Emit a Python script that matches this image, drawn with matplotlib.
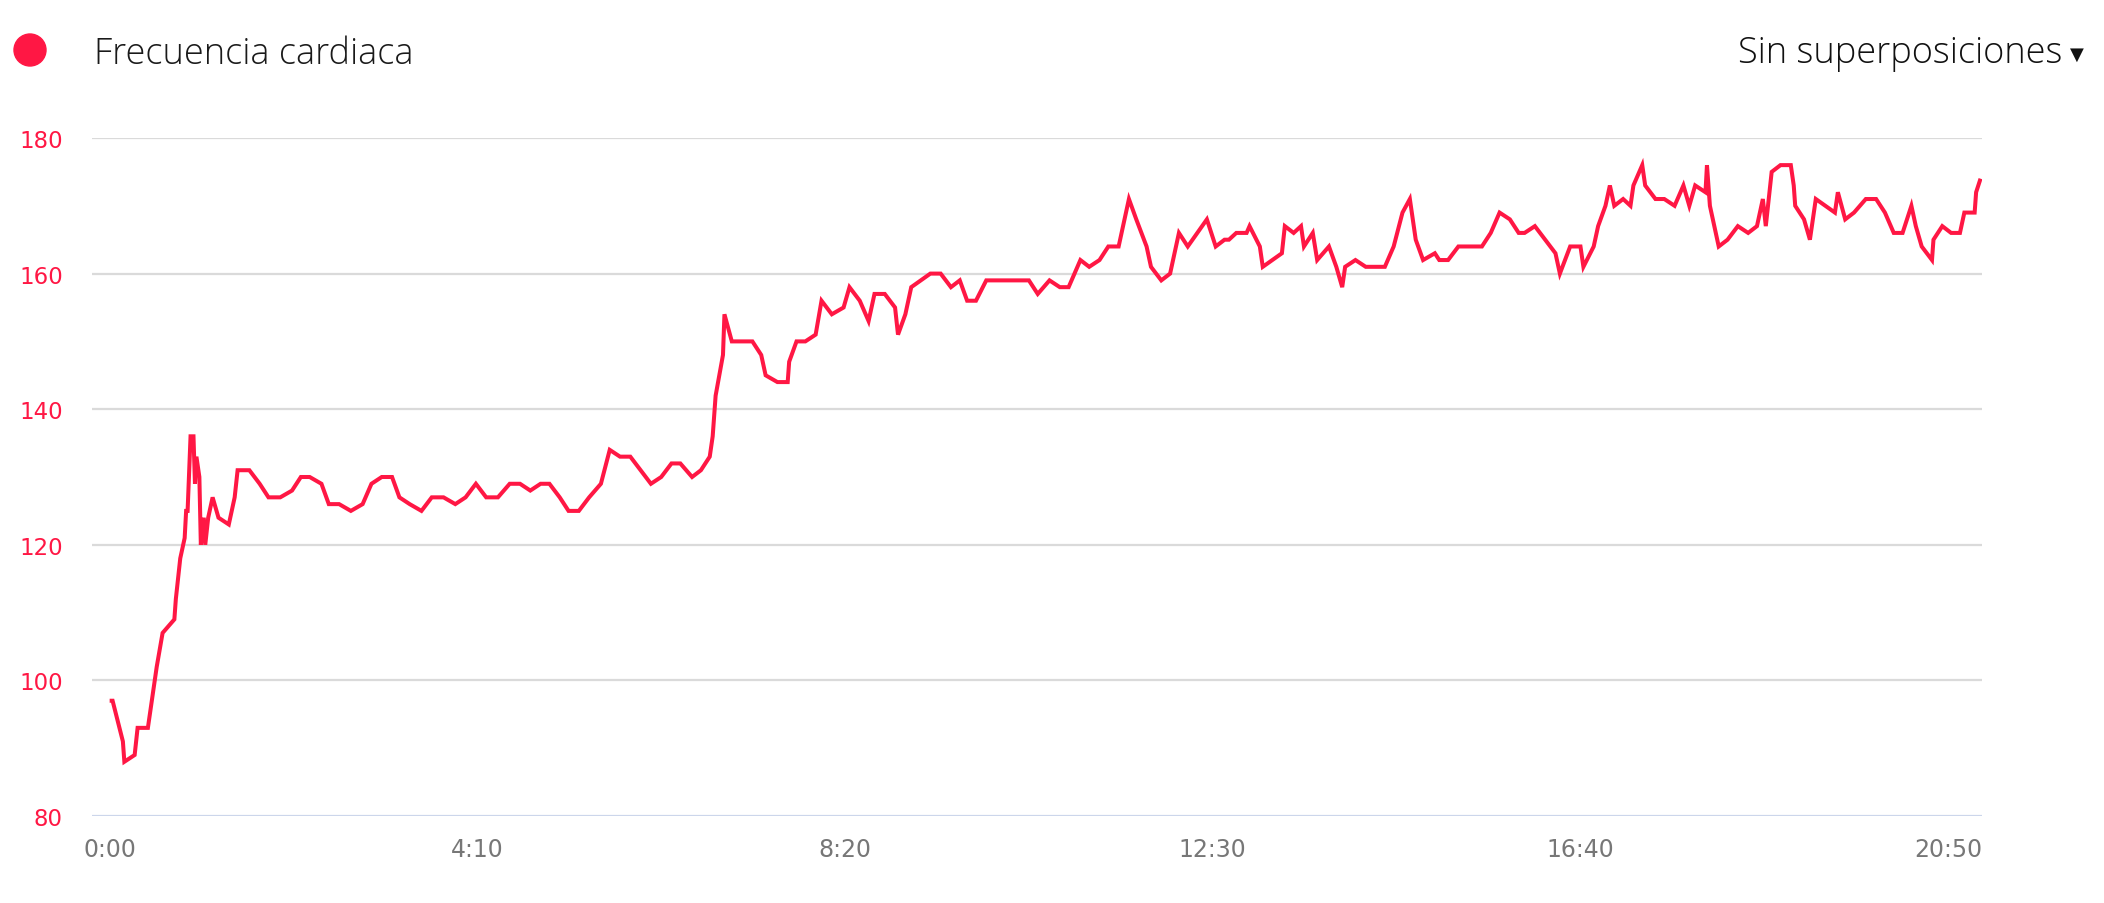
import matplotlib
matplotlib.use("Agg")
import matplotlib.pyplot as plt
from matplotlib.patches import Ellipse

# ---- data (seconds, bpm) ----
time_s = [0, 2, 9, 10, 17, 19, 26, 32, 36, 44, 45, 48, 51, 52, 53, 55, 57, 58, 59, 61,
          62, 64, 65, 67, 70, 74, 81, 85, 87, 95, 102, 108, 116, 124, 130, 136, 144, 149,
          156, 164, 172, 178, 185, 192, 197, 204, 212, 219, 227,
          235, 242, 249, 256, 264, 272, 279, 286, 293, 299, 306, 312, 319, 326, 334, 340,
          347, 354, 361, 368, 375, 382, 388, 396, 402, 408, 410, 412, 417, 418, 423, 437,
          443, 446, 454, 461, 462, 467, 473, 480, 484, 491, 499, 503, 510, 516, 520, 527,
          534, 536, 541, 545, 558, 565, 572, 578, 583, 589, 596, 625, 631, 639, 646, 652,
          660, 666, 673, 679, 686, 693, 698, 705, 708, 715, 721, 722, 727, 733, 746, 752,
          758, 761, 766, 773, 775, 782, 784, 797, 799, 805, 810, 812, 818, 821, 829,
          834, 838, 840, 847, 854, 867, 873, 879, 884, 888, 893, 901, 904, 910, 917, 933,
          939, 945, 952, 958, 962, 969, 976, 983, 986, 993, 1000, 1002, 1009, 1012, 1017,
          1020, 1023, 1029, 1034, 1036, 1042, 1044, 1051, 1057, 1064, 1070, 1074, 1078,
          1085, 1086, 1088, 1091, 1094, 1100, 1107, 1114, 1120, 1124, 1126,
          1130, 1136, 1143, 1145, 1146, 1152, 1156, 1160, 1173, 1175, 1180, 1186, 1194,
          1201, 1207, 1213, 1219, 1225, 1228, 1232, 1239, 1240, 1246, 1252, 1258, 1261,
          1268, 1269, 1272]
heart_rate = [97, 97, 91, 88, 89, 93, 93, 102, 107, 109, 112, 118, 121, 125, 125, 136, 136, 129, 133, 130,
              120, 124, 120, 124, 127, 124, 123, 127, 131, 131, 129, 127, 127, 128, 130, 130, 129, 126,
              126, 125, 126, 129, 130, 130, 127, 126, 125, 127, 127,
              126, 127, 129, 127, 127, 129, 129, 128, 129, 129, 127, 125, 125, 127, 129, 134,
              133, 133, 131, 129, 130, 132, 132, 130, 131, 133, 136, 142, 148, 154, 150, 150,
              148, 145, 144, 144, 147, 150, 150, 151, 156, 154, 155, 158, 156, 153, 157, 157,
              155, 151, 154, 158, 160, 160, 158, 159, 156, 156, 159, 159, 157, 159, 158, 158,
              162, 161, 162, 164, 164, 171, 168, 164, 161, 159, 160, 161, 166, 164, 168, 164,
              165, 165, 166, 166, 167, 164, 161, 163, 167, 166, 167, 164, 166, 162, 164,
              161, 158, 161, 162, 161, 161, 164, 169, 171, 165, 162, 163, 162, 162, 164, 164,
              166, 169, 168, 166, 166, 167, 165, 163, 160, 164, 164, 161, 164, 167, 170,
              173, 170, 171, 170, 173, 176, 173, 171, 171, 170, 173, 170, 173,
              172, 176, 170, 167, 164, 165, 167, 166, 167, 171, 167,
              175, 176, 176, 173, 170, 168, 165, 171, 169, 172, 168, 169, 171,
              171, 169, 166, 166, 170, 167, 164, 162, 165, 167, 166, 166, 169,
              169, 172, 174]

y_ticks = [80, 100, 120, 140, 160, 180]
x_ticks = [0, 250, 500, 750, 1000, 1250]
x_labels = ["0:00", "4:10", "8:20", "12:30", "16:40", "20:50"]
series_name = "Frecuencia cardiaca"
menu_label = "Sin superposiciones"

LINE = "#ff1744"
W, H = 2104, 904

fig = plt.figure(figsize=(W / 100, H / 100), dpi=100)
fig.patch.set_facecolor("white")

left, right = 92 / W, 1982 / W
bottom, top = 1 - 817 / H, 1 - 139 / H
ax = fig.add_axes([left, bottom, right - left, top - bottom])

ax.plot(time_s, heart_rate, color=LINE, lw=2.9, solid_joinstyle="miter",
        solid_capstyle="butt", zorder=3)

ax.set_xlim(-12, 1273)
ax.set_ylim(80, 180)
ax.set_yticks(y_ticks)
ax.set_xticks(x_ticks)
ax.set_xticklabels(x_labels)

for y in y_ticks:
    ax.axhline(y, color="#ccd6eb" if y == 80 else "#dadada", lw=1.6, zorder=1)

for s in ax.spines.values():
    s.set_visible(False)
ax.tick_params(axis="y", length=0, pad=21, labelsize=16.5, labelcolor=LINE)
ax.tick_params(axis="x", length=0, pad=15, labelsize=17, labelcolor="#777777")
for lab in ax.get_yticklabels() + ax.get_xticklabels():
    lab.set_fontfamily("DejaVu Sans")

# header: legend item and menu
fig.patches.append(Ellipse((30 / W, 1 - 51 / H), 32 / W, 32 / H, transform=fig.transFigure,
                           color=LINE, zorder=5))

fig.text(94 / W, 1 - 54 / H, series_name, ha="left", va="center", fontsize=26,
         family="Open Sans", fontweight="light", color="#1a1a1a")
fig.text(2062 / W, 1 - 53 / H, menu_label, ha="right", va="center", fontsize=26,
         family="Open Sans", fontweight="light", color="#111111")
fig.text(2077 / W, 1 - 55 / H, "\u25BC", ha="center", va="center", fontsize=13,
         family="DejaVu Sans", color="#111111")

fig.savefig("out.png", dpi=100, facecolor="white")
